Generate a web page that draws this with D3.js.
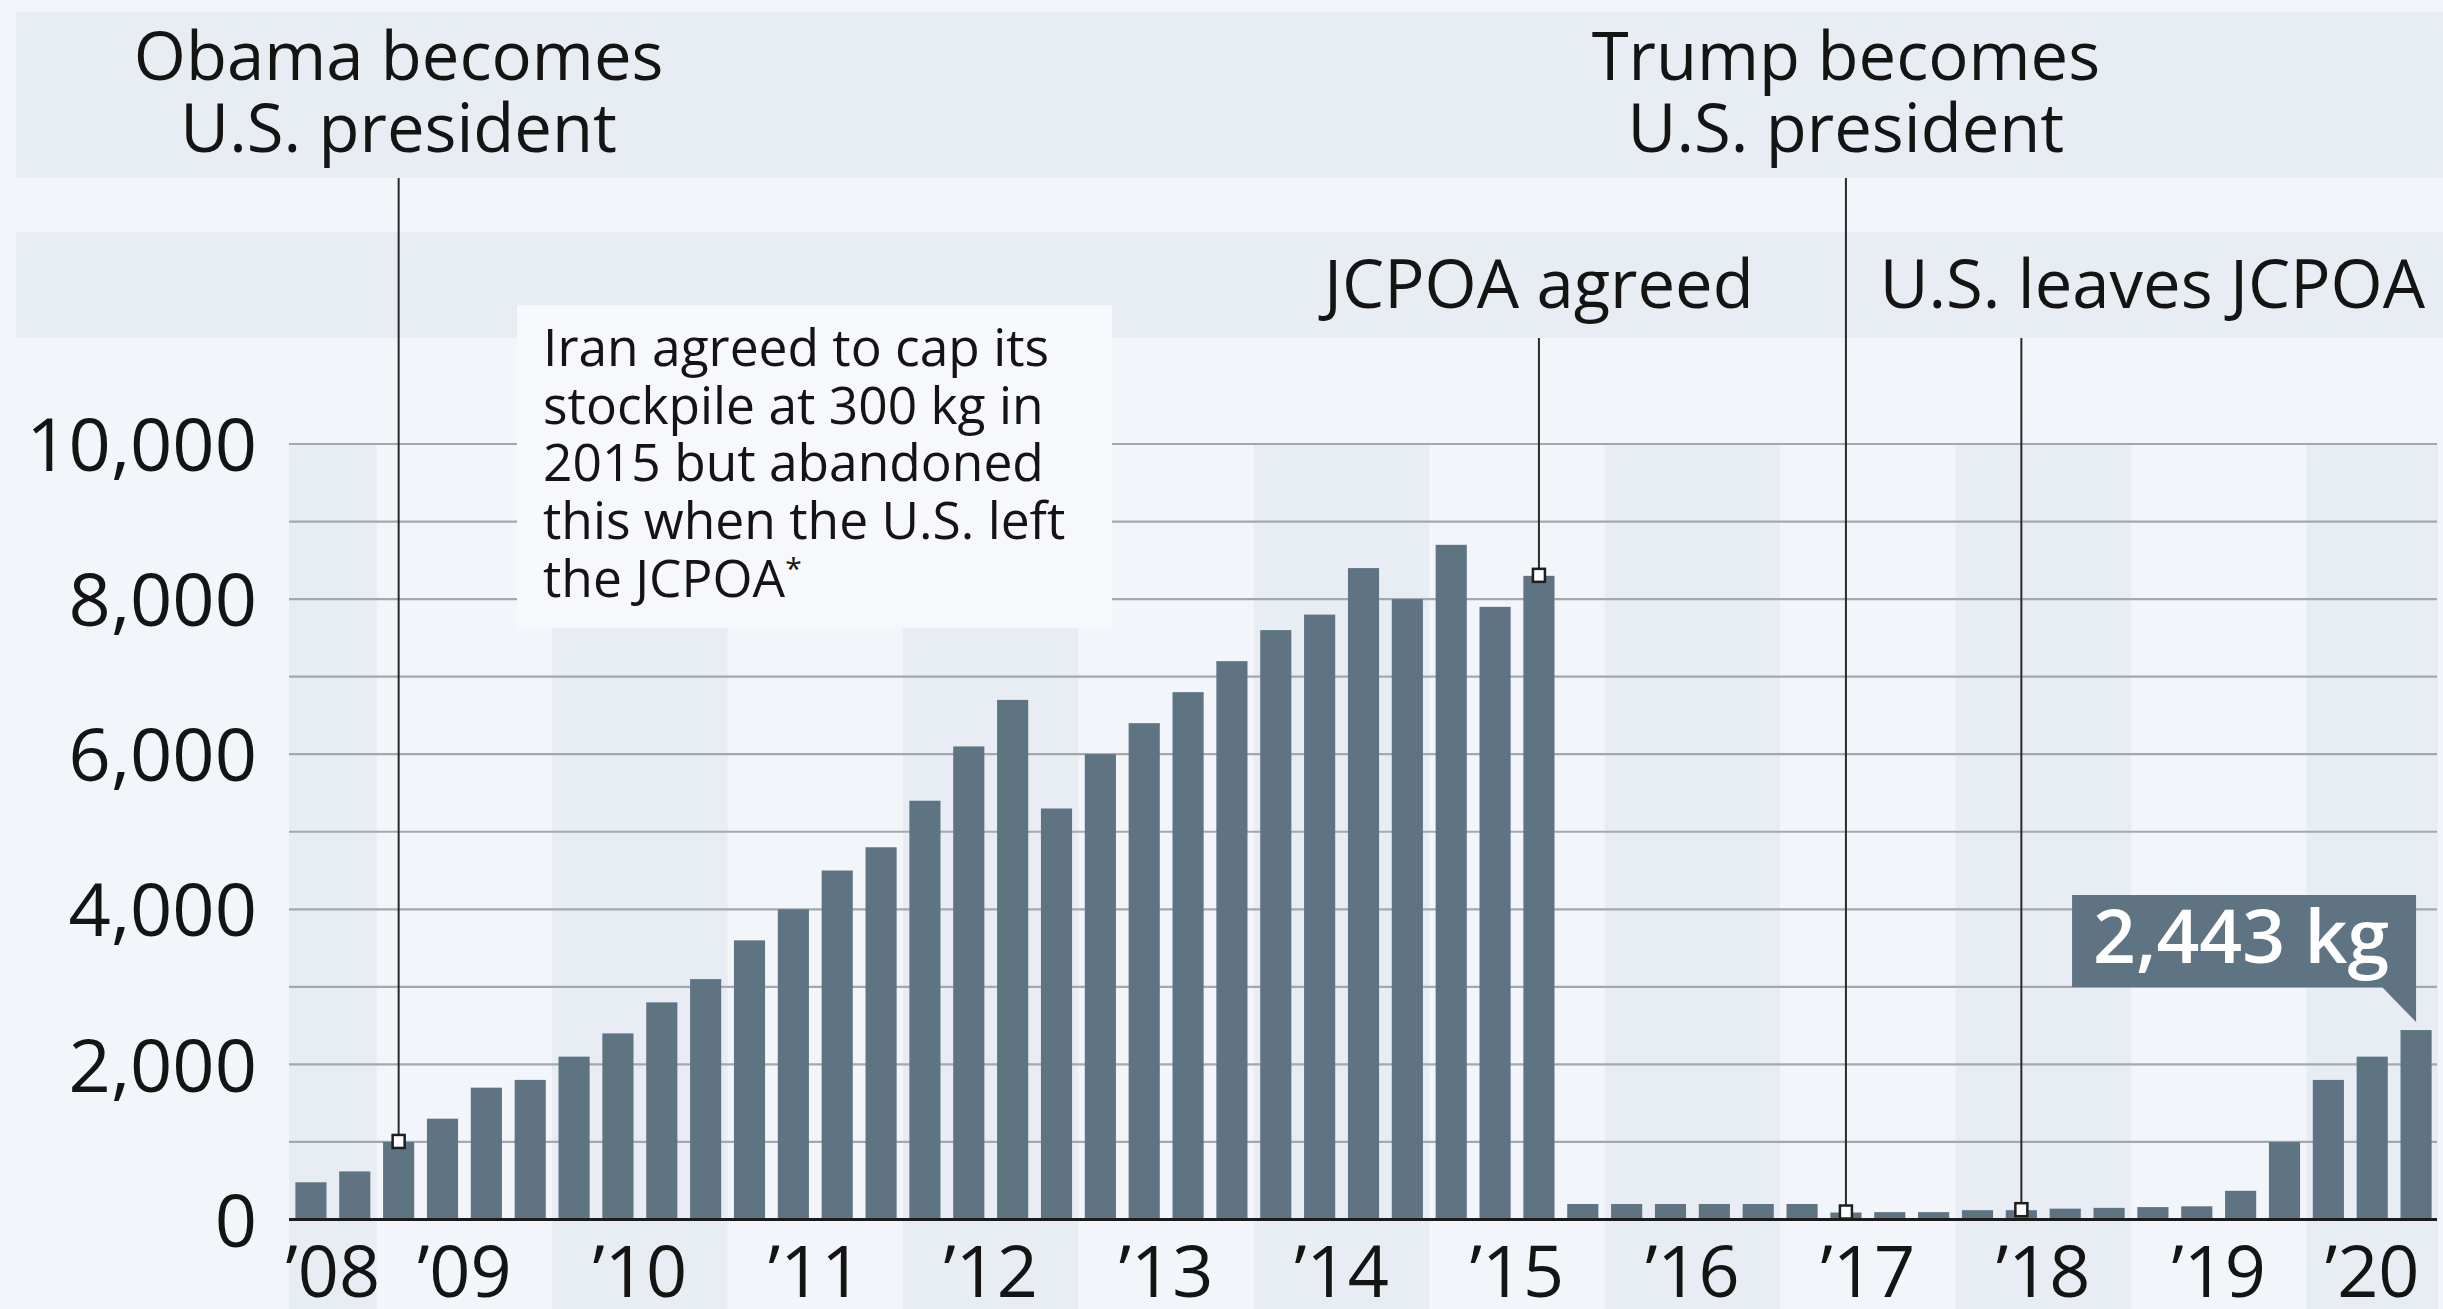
<!DOCTYPE html>
<html>
<head>
<meta charset="utf-8">
<script src="https://cdn.jsdelivr.net/npm/d3@7"></script>
<style>
  html, body { margin: 0; padding: 0; background: #f2f5f9; }
  svg { display: block; font-family: "Open Sans", sans-serif; }
</style>
</head>
<body>
<svg id="chart" width="2443" height="1309"></svg>
<script>
// Iran's stockpile of low-enriched uranium, per IAEA report (kg)
const years = [2008, 2009, 2010, 2011, 2012, 2013, 2014, 2015, 2016, 2017, 2018, 2019, 2020];
const reportsPerYear = [2, 4, 4, 4, 4, 4, 4, 4, 4, 4, 4, 4, 3];
const yearLabels = ["’08", "’09", "’10", "’11", "’12", "’13", "’14", "’15", "’16", "’17", "’18", "’19", "’20"];
const stockpileKg = [
  480, 620,
  1000, 1300, 1700, 1800,
  2100, 2400, 2800, 3100,
  3600, 4000, 4500, 4800,
  5400, 6100, 6700, 5300,
  6000, 6400, 6800, 7200,
  7600, 7800, 8400, 8000,
  8700, 7900, 8300, 200,
  200, 200, 200, 200,
  200, 90, 95, 95,
  120, 120, 140, 150,
  160, 170, 370, 1000,
  1800, 2100, 2443
];
const gridValues = [1000, 2000, 3000, 4000, 5000, 6000, 7000, 8000, 9000, 10000];
const axisTicks = [0, 2000, 4000, 6000, 8000, 10000];
const events = [
  { lines: ["Obama becomes", "U.S. president"], bar: 2, row: 0, anchor: "middle" },
  { lines: ["Trump becomes", "U.S. president"], bar: 35, row: 0, anchor: "middle" },
  { lines: ["JCPOA agreed"], bar: 28, row: 1, anchor: "middle" },
  { lines: ["U.S. leaves JCPOA"], bar: 39, row: 1, anchor: "end" }
];
const noteLines = ["Iran agreed to cap its", "stockpile at 300 kg in", "2015 but abandoned", "this when the U.S. left", "the JCPOA"];
const latestLabel = "2,443 kg";

const W = 2443, H = 1309;
const barColor = "#5f7483";
const bandColor = "#e8edf4";
const bgColor = "#f2f5f9";
const inkColor = "#141414";

const periods = years.flatMap((y, i) => d3.range(reportsPerYear[i]).map(k => `${y}-${k + 1}`));
const data = periods.map((p, i) => ({ period: p, value: stockpileKg[i] }));

const x = d3.scaleBand().domain(periods).range([289, 2438]).paddingInner(0.29).paddingOuter(0.145);
const y = d3.scaleLinear().domain([0, 10000]).range([1219.5, 444]);
const halfGap = x.step() * x.paddingInner() / 2;

const svg = d3.select("#chart");
svg.append("rect").attr("width", W).attr("height", H).attr("fill", bgColor);

// header rows that hold the event captions
const rows = [{ y0: 12, y1: 178 }, { y0: 232, y1: 338 }];
svg.append("g").selectAll("rect").data(rows).join("rect")
  .attr("x", 16).attr("y", d => d.y0).attr("width", W - 16).attr("height", d => d.y1 - d.y0)
  .attr("fill", bandColor);

// alternating year columns
let cursor = 0;
const yearSpans = years.map((yr, i) => {
  const first = periods[cursor], last = periods[cursor + reportsPerYear[i] - 1];
  cursor += reportsPerYear[i];
  const x0 = x(first) - halfGap, x1 = x(last) + x.bandwidth() + halfGap;
  return { year: yr, label: yearLabels[i], x0, x1, cx: (x0 + x1) / 2 };
});
svg.append("g").selectAll("rect").data(yearSpans.filter(d => d.year % 2 === 0)).join("rect")
  .attr("x", d => d.x0).attr("y", y(10000)).attr("width", d => d.x1 - d.x0).attr("height", H - y(10000))
  .attr("fill", bandColor);

// gridlines
const [rx0, rx1] = x.range();
svg.append("g").selectAll("line").data(gridValues).join("line")
  .attr("x1", rx0).attr("x2", rx1 - 1)
  .attr("y1", d => y(d)).attr("y2", d => y(d))
  .attr("stroke", "#a3a8ae").attr("stroke-width", 2.2);

// note box
const note = svg.append("g");
note.append("rect").attr("x", 517).attr("y", 305).attr("width", 595).attr("height", 323).attr("fill", "#f6f8fb");
const noteText = note.append("text").attr("fill", inkColor).attr("font-size", 51.5);
noteLines.forEach((t, i) => {
  const ts = noteText.append("tspan").attr("x", 543).attr("y", 366 + i * 57.7).text(t);
  if (i === noteLines.length - 1) {
    noteText.append("tspan").attr("dy", -18).attr("font-size", 30).text("*");
  }
});

// bars
svg.append("g").selectAll("rect").data(data).join("rect")
  .attr("x", d => x(d.period)).attr("width", x.bandwidth())
  .attr("y", d => y(d.value)).attr("height", d => y(0) - y(d.value))
  .attr("fill", barColor);

// baseline
svg.append("line").attr("x1", rx0).attr("x2", rx1 - 1).attr("y1", y(0)).attr("y2", y(0))
  .attr("stroke", "#1c1c1c").attr("stroke-width", 3);

// y axis labels
const yAxis = d3.axisLeft(y).tickValues(axisTicks).tickFormat(d3.format(",")).tickSize(0).tickPadding(0);
const yg = svg.append("g").attr("transform", "translate(257,0)").call(yAxis);
yg.select(".domain").remove();
yg.selectAll("text").attr("font-family", "Open Sans").attr("font-size", 74).attr("fill", inkColor).attr("dy", "0.36em");

// x axis labels centred in each year column
svg.append("g").selectAll("text").data(yearSpans).join("text")
  .attr("x", d => d.cx).attr("y", 1297).attr("text-anchor", "middle")
  .attr("font-size", 72).attr("fill", inkColor).text(d => d.label);

// event leaders, markers and captions
const evG = svg.append("g");
events.forEach(ev => {
  const d = data[ev.bar];
  const cx = x(d.period) + x.bandwidth() / 2;
  const top = y(d.value);
  const row = rows[ev.row];
  evG.append("line").attr("x1", cx).attr("x2", cx).attr("y1", row.y1).attr("y2", top - 7)
    .attr("stroke", "#2a2a2a").attr("stroke-width", 2);
  evG.append("rect").attr("x", cx - 6).attr("y", top - 7).attr("width", 12).attr("height", 13)
    .attr("fill", "#ffffff").attr("stroke", "#1e1e1e").attr("stroke-width", 2.5);
  const t = evG.append("text").attr("font-size", 67).attr("fill", inkColor).attr("text-anchor", ev.anchor);
  const tx = ev.anchor === "end" ? 2425 : cx;
  const baselines = ev.row === 0 ? [80, 152] : [308];
  ev.lines.forEach((line, i) => t.append("tspan").attr("x", tx).attr("y", baselines[i]).text(line));
});

// callout for the latest value
const lastD = data[data.length - 1];
const lx = x(lastD.period) + x.bandwidth() / 2;
const ly = y(lastD.value);
const call = svg.append("g");
const bx1 = lx, bx0 = lx - 344, by0 = 895, by1 = 987;
call.append("path")
  .attr("d", `M${bx0},${by0}H${bx1}V${ly - 8}L${bx1 - 34},${by1}H${bx0}Z`)
  .attr("fill", barColor);
call.append("text").attr("x", (bx0 + bx1) / 2 - 3).attr("y", 963).attr("text-anchor", "middle")
  .attr("font-size", 75).attr("font-weight", 600).attr("fill", "#ffffff").text(latestLabel);
</script>
</body>
</html>
